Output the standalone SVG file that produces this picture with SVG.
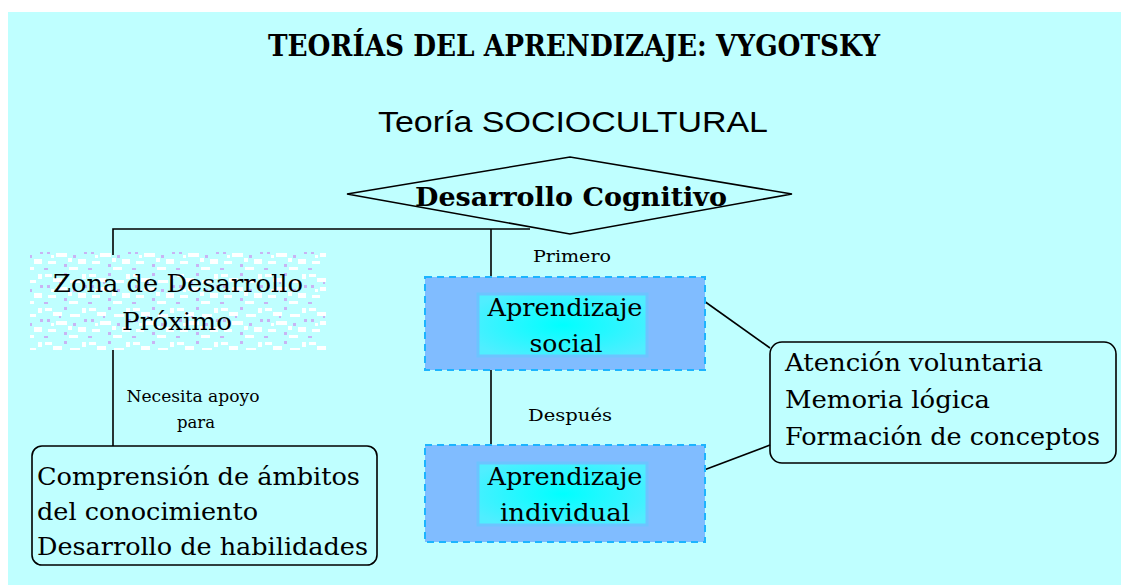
<svg xmlns="http://www.w3.org/2000/svg" width="1121" height="585" viewBox="0 0 1121 585">
<style>
.ser{font-family:"DejaVu Serif","Liberation Serif",serif;fill:#000}
.big{font-size:25px}
.sm{font-size:16px}
.ln{stroke:#000;stroke-width:1.6;fill:none}
.outer{fill:#80BCFF;stroke:#1CB4FF;stroke-width:2;stroke-dasharray:7 5}
.inner{fill:url(#cy);stroke:#6CC4FF;stroke-width:3}
.rbox{fill:none;stroke:#000;stroke-width:1.6}
</style>
<defs>
<radialGradient id="cy" cx="0.5" cy="0.5" r="0.6">
<stop offset="0" stop-color="#00FFFF"/>
<stop offset="1" stop-color="#50EEFF"/>
</radialGradient>
<pattern id="spk" width="44" height="34" patternUnits="userSpaceOnUse">
<rect x="1" y="2" width="7" height="3" fill="#fff"/>
<rect x="9" y="6" width="9" height="4" fill="#fff"/>
<rect x="20" y="1" width="3" height="3" fill="#C8B4F4"/>
<rect x="26" y="8" width="10" height="3" fill="#fff"/>
<rect x="38" y="2" width="4" height="5" fill="#fff"/>
<rect x="3" y="13" width="3" height="3" fill="#C8B4F4"/>
<rect x="12" y="15" width="11" height="4" fill="#fff"/>
<rect x="29" y="17" width="3" height="3" fill="#C8B4F4"/>
<rect x="34" y="21" width="8" height="5" fill="#fff"/>
<rect x="4" y="23" width="8" height="3" fill="#fff"/>
<rect x="20" y="26" width="3" height="3" fill="#C8B4F4"/>
<rect x="15" y="10" width="2" height="2" fill="#C8B4F4"/>
<rect x="25" y="29" width="9" height="3" fill="#fff"/>
<rect x="0" y="30" width="4" height="2" fill="#C8B4F4"/>
<rect x="40" y="13" width="3" height="3" fill="#C8B4F4"/>
<rect x="24" y="20" width="4" height="4" fill="#fff"/>
<rect x="7" y="17" width="3" height="3" fill="#fff"/>
</pattern>
</defs>
<rect x="0" y="0" width="1121" height="585" fill="#fff"/>
<rect x="8" y="12" width="1113" height="573" fill="#BFFFFF"/>

<g id="title">
<text x="574" y="56" text-anchor="middle" class="ser" font-size="30" font-weight="bold" textLength="612" lengthAdjust="spacingAndGlyphs">TEORÍAS DEL APRENDIZAJE: VYGOTSKY</text>
</g>
<g id="subtitle">
<text x="573" y="132" text-anchor="middle" font-family="'Liberation Sans',Arial,sans-serif" font-size="30" textLength="390" lengthAdjust="spacingAndGlyphs">Teoría SOCIOCULTURAL</text>
</g>

<g id="connectors">
<polyline class="ln" points="113,255 113,229 530,229"/>
<line class="ln" x1="491" y1="229" x2="491" y2="277"/>
<line class="ln" x1="113" y1="350" x2="113" y2="446"/>
<line class="ln" x1="491" y1="370" x2="491" y2="445"/>
<line class="ln" x1="704" y1="301" x2="770" y2="348"/>
<line class="ln" x1="704" y1="470" x2="770" y2="445"/>
<text x="572" y="262" text-anchor="middle" class="ser sm" textLength="78" lengthAdjust="spacingAndGlyphs">Primero</text>
<text x="570" y="421" text-anchor="middle" class="ser sm" textLength="84" lengthAdjust="spacingAndGlyphs">Después</text>
<text x="193" y="402" text-anchor="middle" class="ser sm" textLength="133" lengthAdjust="spacingAndGlyphs">Necesita apoyo</text>
<text x="196" y="428" text-anchor="middle" class="ser sm" textLength="38" lengthAdjust="spacingAndGlyphs">para</text>
</g>

<g id="desarrollo-cognitivo">
<polygon points="347,194 570,157 792,194 570,234" fill="#BFFFFF" stroke="#000" stroke-width="1.6"/>
<text x="571" y="206" text-anchor="middle" class="ser" font-size="26" font-weight="bold" textLength="312" lengthAdjust="spacingAndGlyphs">Desarrollo Cognitivo</text>
</g>

<g id="zona">
<rect x="30" y="252" width="296" height="98" fill="url(#spk)"/>
<text x="178" y="292" text-anchor="middle" class="ser big" textLength="250" lengthAdjust="spacingAndGlyphs">Zona de Desarrollo</text>
<text x="177" y="330" text-anchor="middle" class="ser big" textLength="110" lengthAdjust="spacingAndGlyphs">Próximo</text>
</g>

<g id="aprendizaje-social">
<rect class="outer" x="425" y="277" width="280" height="93"/>
<rect class="inner" x="478" y="294" width="169" height="62"/>
<text x="565" y="316" text-anchor="middle" class="ser big" textLength="155" lengthAdjust="spacingAndGlyphs">Aprendizaje</text>
<text x="566" y="352" text-anchor="middle" class="ser big" textLength="73" lengthAdjust="spacingAndGlyphs">social</text>
</g>

<g id="aprendizaje-individual">
<rect class="outer" x="425" y="445" width="280" height="97"/>
<rect class="inner" x="478" y="463" width="169" height="62"/>
<text x="565" y="485" text-anchor="middle" class="ser big" textLength="155" lengthAdjust="spacingAndGlyphs">Aprendizaje</text>
<text x="565" y="521" text-anchor="middle" class="ser big" textLength="130" lengthAdjust="spacingAndGlyphs">individual</text>
</g>

<g id="comprension">
<rect class="rbox" x="32" y="446" width="345" height="119" rx="10"/>
<text x="37" y="485" class="ser big" textLength="323" lengthAdjust="spacingAndGlyphs">Comprensión de ámbitos</text>
<text x="37" y="520" class="ser big" textLength="221" lengthAdjust="spacingAndGlyphs">del conocimiento</text>
<text x="37" y="555" class="ser big" textLength="331" lengthAdjust="spacingAndGlyphs">Desarrollo de habilidades</text>
</g>

<g id="funciones">
<rect class="rbox" x="770" y="342" width="346" height="121" rx="12"/>
<text x="785" y="371" class="ser big" textLength="258" lengthAdjust="spacingAndGlyphs">Atención voluntaria</text>
<text x="785" y="408" class="ser big" textLength="205" lengthAdjust="spacingAndGlyphs">Memoria lógica</text>
<text x="785" y="445" class="ser big" textLength="315" lengthAdjust="spacingAndGlyphs">Formación de conceptos</text>
</g>
</svg>
